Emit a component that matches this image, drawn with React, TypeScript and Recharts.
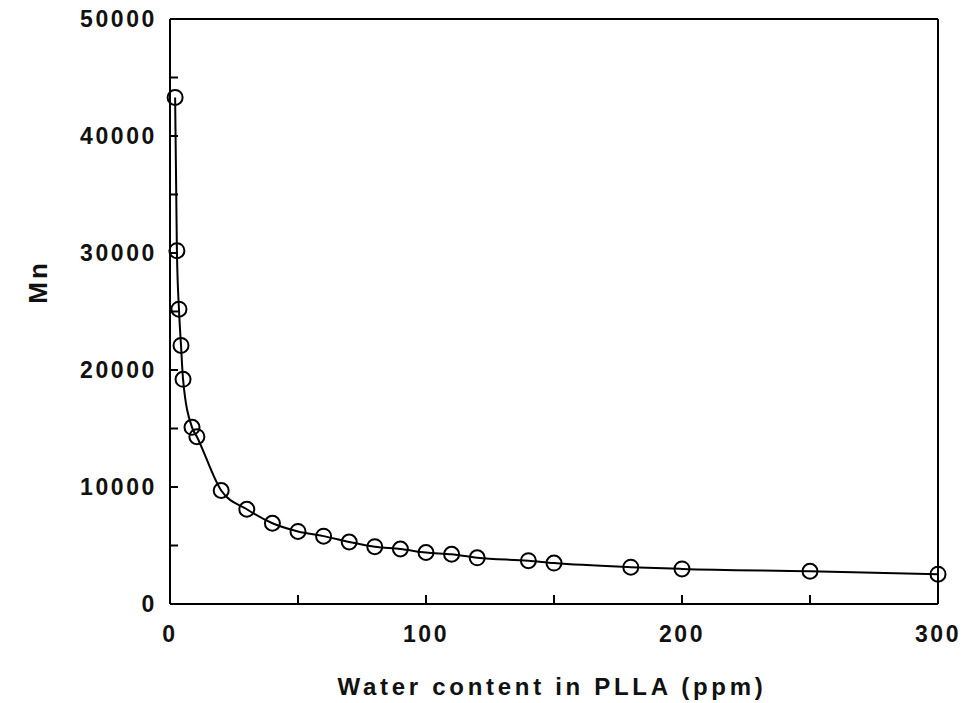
import React from 'react';
import { LineChart, Line, XAxis, YAxis, ReferenceLine } from 'recharts';

const waterContent = [2, 2.7, 3.5, 4.3, 5.1, 8.6, 10.5, 20, 30, 40, 50, 60, 70, 80, 90, 100, 110, 120, 140, 150, 180, 200, 250, 300];
const mnValues = [43300, 30200, 25200, 22100, 19200, 15100, 14300, 9700, 8100, 6900, 6200, 5800, 5300, 4900, 4700, 4400, 4250, 3950, 3700, 3500, 3150, 3000, 2800, 2550];
const xTicks = [0, 50, 100, 150, 200, 250, 300];
const xLabeled = [0, 100, 200, 300];
const yTicks = [0, 5000, 10000, 15000, 20000, 25000, 30000, 35000, 40000, 45000, 50000];
const yLabeled = [0, 10000, 20000, 30000, 40000, 50000];

const data = waterContent.map((w, i) => ({ w, mn: mnValues[i] }));

const FONT = 'Arial, "Liberation Sans", Helvetica, sans-serif';

const YTick = (props: any) => {
  const { x, y, payload } = props;
  const v = payload.value;
  const showTick = v !== 0 && v !== 50000;
  return (
    <g>
      {showTick && <line x1={x} x2={x + 8} y1={y} y2={y} stroke="#000" strokeWidth={2} />}
      {yLabeled.includes(v) && (
        <text x={x - 13} y={y} dy={8} textAnchor="end" fontFamily={FONT} fontWeight="bold" fontSize={23} letterSpacing={2.6} fill="#111">
          {v}
        </text>
      )}
    </g>
  );
};

const XTick = (props: any) => {
  const { x, y, payload } = props;
  const v = payload.value;
  const showTick = v !== 0 && v !== 300;
  return (
    <g>
      {showTick && <line x1={x} x2={x} y1={y} y2={y - 9} stroke="#000" strokeWidth={2} />}
      {xLabeled.includes(v) && (
        <text x={x} y={y} dy={38} textAnchor="middle" fontFamily={FONT} fontWeight="bold" fontSize={23} letterSpacing={2.6} fill="#111">
          {v}
        </text>
      )}
    </g>
  );
};

const Dot = (props: any) => {
  const { cx, cy, index } = props;
  return <circle key={index} cx={cx} cy={cy} r={7.5} fill="none" stroke="#000" strokeWidth={2} />;
};

export default function App() {
  return (
    <div style={{ position: 'absolute', left: 0, top: 0, background: '#fff' }}>
      <LineChart width={979} height={703} data={data} margin={{ top: 19, right: 41, left: 0, bottom: 0 }}>
        <XAxis
          dataKey="w"
          type="number"
          domain={[0, 300]}
          ticks={xTicks}
          tickSize={0}
          tickMargin={0}
          tickLine={false}
          height={99}
          axisLine={{ stroke: '#000', strokeWidth: 2 }}
          tick={<XTick />}
          interval={0}
          label={{
            content: (p: any) => {
              const vb = p.viewBox;
              return (
                <text x={vb.x + vb.width / 2 - 2} y={vb.y + 91} textAnchor="middle" fontFamily={FONT} fontWeight="bold" fontSize={24} letterSpacing={3.7} fill="#111">
                  Water content in PLLA (ppm)
                </text>
              );
            },
          }}
        />
        <YAxis
          type="number"
          domain={[0, 50000]}
          ticks={yTicks}
          tickSize={0}
          tickMargin={0}
          tickLine={false}
          width={170}
          axisLine={{ stroke: '#000', strokeWidth: 2 }}
          tick={<YTick />}
          interval={0}
          label={{
            content: (p: any) => {
              const vb = p.viewBox;
              const cx = vb.x + 38;
              const cy = vb.y + 263;
              return (
                <text x={cx} y={cy} transform={`rotate(-90 ${cx} ${cy})`} dy={9} textAnchor="middle" fontFamily={FONT} fontWeight="bold" fontSize={26} letterSpacing={3} fill="#111">
                  Mn
                </text>
              );
            },
          }}
        />
        <ReferenceLine y={50000} stroke="#000" strokeWidth={2} />
        <ReferenceLine x={300} stroke="#000" strokeWidth={2} />
        <Line
          type="monotone"
          dataKey="mn"
          stroke="#000"
          strokeWidth={2}
          dot={<Dot />}
          activeDot={false}
          isAnimationActive={false}
        />
      </LineChart>
    </div>
  );
}
